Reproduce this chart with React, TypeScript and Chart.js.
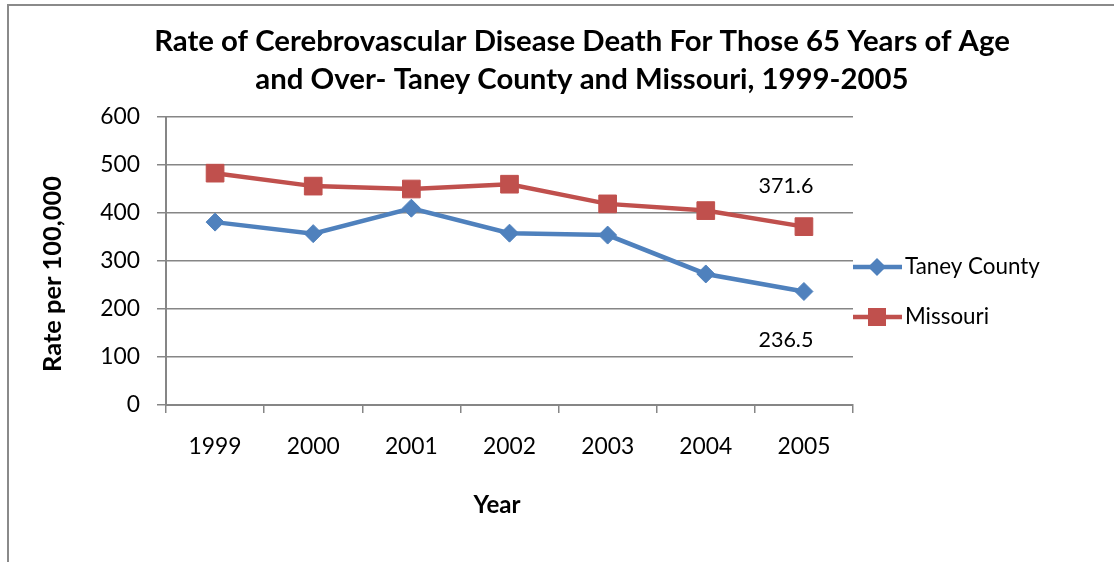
import React, { useEffect, useRef } from "react";
import { Chart, registerables } from "chart.js";

Chart.register(...registerables);

const years = ["1999", "2000", "2001", "2002", "2003", "2004", "2005"];
const taneyCounty = [381, 357, 410, 358, 354, 273, 236.5];
const missouri = [483, 456, 450, 460, 419, 405, 371.6];
const yMin = 0;
const yMax = 600;
const yStep = 100;
const titleLines = [
  "Rate of Cerebrovascular Disease Death For Those 65 Years of Age",
  "and Over- Taney County and Missouri, 1999-2005",
];
const yAxisTitle = "Rate per 100,000";
const xAxisTitle = "Year";
const seriesNames = ["Taney County", "Missouri"];
const seriesColors = ["#4F81BD", "#C0504D"];

const FONT = "Lato, 'Open Sans', sans-serif";
const W = 1114;
const H = 562;

function fitSize(text: string, width: number, weight: string): number {
  const c = document.createElement("canvas").getContext("2d")!;
  c.font = `${weight} 100px ${FONT}`;
  return (100 * width) / c.measureText(text).width;
}

export default function App() {
  const ref = useRef<HTMLCanvasElement | null>(null);

  useEffect(() => {
    const canvas = ref.current;
    if (!canvas) return;

    const titleSize = fitSize(titleLines[0], 856, "bold");
    const tickSize = fitSize("1999", 53, "normal");
    const yTitleSize = fitSize(yAxisTitle, 196, "bold");
    const xTitleSize = fitSize(xAxisTitle, 47, "bold");
    const legendSize = fitSize(seriesNames[0], 135, "normal");
    const labelSize = fitSize("371.6", 55, "normal");

    const decor = {
      id: "decor",
      afterDraw(chart: any) {
        const ctx = chart.ctx as CanvasRenderingContext2D;
        ctx.save();
        // outer chart border (extends beyond the picture)
        ctx.strokeStyle = "#8a8a8a";
        ctx.lineWidth = 2;
        ctx.beginPath();
        ctx.moveTo(8, H + 5);
        ctx.lineTo(8, 5);
        ctx.lineTo(W + 5, 5);
        ctx.stroke();

        ctx.fillStyle = "#000";
        ctx.textAlign = "center";
        ctx.textBaseline = "middle";
        // title
        ctx.font = `bold ${titleSize}px ${FONT}`;
        ctx.fillText(titleLines[0], 582, 42);
        ctx.fillText(titleLines[1], 582, 80);
        // x axis title
        ctx.font = `bold ${xTitleSize}px ${FONT}`;
        ctx.fillText(xAxisTitle, 497, 505);
        // y axis title
        ctx.save();
        ctx.translate(53, 274);
        ctx.rotate(-Math.PI / 2);
        ctx.font = `bold ${yTitleSize}px ${FONT}`;
        ctx.fillText(yAxisTitle, 0, 0);
        ctx.restore();

        // legend
        const legendY = [267, 317];
        for (let i = 0; i < 2; i++) {
          const y = legendY[i];
          ctx.strokeStyle = seriesColors[i];
          ctx.lineWidth = 4.5;
          ctx.beginPath();
          ctx.moveTo(853, y);
          ctx.lineTo(902, y);
          ctx.stroke();
          ctx.fillStyle = seriesColors[i];
          ctx.beginPath();
          if (i === 0) {
            ctx.moveTo(877 - 9, y);
            ctx.lineTo(877, y - 9);
            ctx.lineTo(877 + 9, y);
            ctx.lineTo(877, y + 9);
            ctx.closePath();
          } else {
            ctx.rect(877 - 9, y - 9, 18, 18);
          }
          ctx.fill();
          ctx.fillStyle = "#000";
          ctx.textAlign = "left";
          ctx.font = `${legendSize}px ${FONT}`;
          ctx.fillText(seriesNames[i], 905, y);
        }

        // data labels for last points
        ctx.textAlign = "center";
        ctx.font = `${labelSize}px ${FONT}`;
        const last = years.length - 1;
        const mPt = chart.getDatasetMeta(1).data[last];
        const tPt = chart.getDatasetMeta(0).data[last];
        ctx.fillText(String(missouri[last]), mPt.x - 18, mPt.y - 41);
        ctx.fillText(String(taneyCounty[last]), tPt.x - 18, tPt.y + 49);
        ctx.restore();
      },
    };

    const chart = new Chart(canvas, {
      type: "line",
      data: {
        labels: years,
        datasets: [
          {
            label: seriesNames[0],
            data: taneyCounty,
            borderColor: seriesColors[0],
            backgroundColor: seriesColors[0],
            borderWidth: 4.5,
            pointStyle: "rectRot",
            pointRadius: 9,
            pointBorderWidth: 1,
            pointBackgroundColor: seriesColors[0],
            pointBorderColor: seriesColors[0],
            tension: 0,
          },
          {
            label: seriesNames[1],
            data: missouri,
            borderColor: seriesColors[1],
            backgroundColor: seriesColors[1],
            borderWidth: 4.5,
            pointStyle: "rect",
            pointRadius: 12.5,
            pointBorderWidth: 1,
            pointBackgroundColor: seriesColors[1],
            pointBorderColor: seriesColors[1],
            tension: 0,
          },
        ],
      },
      options: {
        responsive: false,
        animation: false,
        layout: { padding: { left: 0, top: 117, right: W - 853, bottom: 0 }, autoPadding: false },
        plugins: {
          legend: { display: false },
          title: { display: false },
          tooltip: { enabled: false },
        },
        scales: {
          x: {
            type: "category",
            offset: true,
            grid: {
              offset: true,
              drawOnChartArea: false,
              drawTicks: true,
              tickLength: 8,
              color: "#868686",
              lineWidth: 1.5,
            },
            border: { color: "#868686", width: 2 },
            ticks: {
              font: { family: FONT, size: tickSize },
              color: "#000",
              padding: 20,
              maxRotation: 0,
              autoSkip: false,
            },
            afterFit: (s: any) => {
              s.height = H - 405;
            },
          },
          y: {
            min: yMin,
            max: yMax,
            ticks: {
              stepSize: yStep,
              font: { family: FONT, size: tickSize },
              color: "#000",
              padding: 17,
            },
            grid: { color: "#868686", lineWidth: 1.5, tickLength: 9 },
            border: { color: "#868686", width: 2 },
            afterFit: (s: any) => {
              s.width = 166;
            },
          },
        },
      },
      plugins: [decor],
    } as any);

    return () => chart.destroy();
  }, []);

  return (
    <div style={{ position: "fixed", left: 0, top: 0, width: W, height: H, background: "#fff" }}>
      <canvas ref={ref} width={W} height={H} style={{ display: "block", width: W, height: H }} />
    </div>
  );
}
